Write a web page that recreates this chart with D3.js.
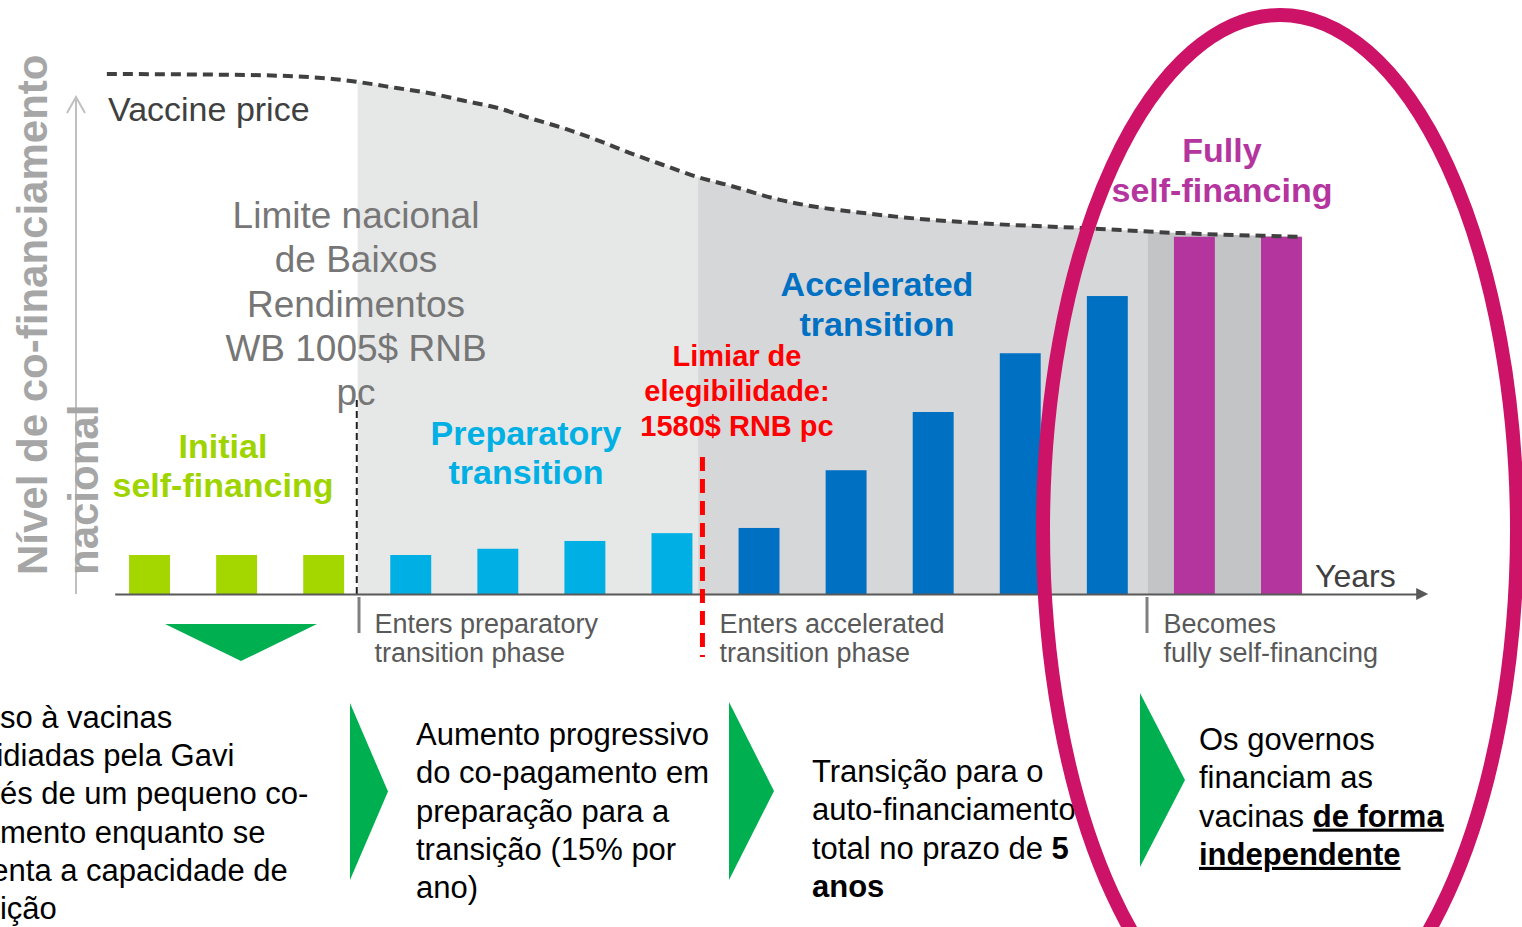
<!DOCTYPE html>
<meta charset="utf-8">

<style>

body {
  margin: 0;
  background: #fff;
}

svg text {
  font-family: "Liberation Sans", Arial, Helvetica, sans-serif;
}

</style>

<svg class="chart" width="1522" height="927"></svg>

<script src="https://d3js.org/d3.v7.min.js"></script>

<script>

// years along the transition path and the national co-financing level (% of price)
var years = d3.range(1, 15).map(String);
var phaseOfYear = ["initial", "initial", "initial",
  "preparatory", "preparatory", "preparatory", "preparatory",
  "accelerated", "accelerated", "accelerated", "accelerated", "accelerated",
  "fully", "fully"];
var coFinancing = [7.5, 7.5, 7.5, 7.5, 8.7, 10.2, 11.7, 12.7, 23.8, 35, 46.3, 57.3, 68.7, 68.7];

// vaccine price curve (same units as co-financing)
var priceYear  = [0.51, 2.15, 3.13, 3.42, 3.84, 4.22, 4.60, 4.99, 5.37, 5.75, 6.14, 6.52,
  6.90, 7.29, 7.63, 8.24, 9.39, 10.54, 11.69, 12.84, 14.24];
var priceLevel = [100, 99.8, 99.0, 98.4, 97.3, 96.3, 94.9, 93.5, 91.5, 89.6, 87.3, 84.8,
  82.5, 80.2, 78.7, 75.8, 72.9, 71.3, 70.4, 69.4, 68.7];

// shaded phases under the price curve
var bandPhases = ["preparatory", "accelerated", "fully"];
var bandStart  = [3.39, 7.30, 12.46];
var bandEnd    = [7.30, 12.46, 14.24];

// markers on the year axis
var phaseTickYears = [3.40, 12.45];
var lowIncomeYear = 3.38;
var eligibilityYear = 7.35;
var axisYears = [0.6, 15.57];

var barColor = {
  initial: "#a4d700",
  preparatory: "#00b0e4",
  accelerated: "#0070c3",
  fully: "#b5359f"
};
var bandColor = {
  preparatory: "#e6e7e7",
  accelerated: "#d6d7d9",
  fully: "#c3c4c6"
};

var svg = d3.select("svg.chart");

var x = d3.scaleBand()
  .domain(years)
  .range([106, 1325])
  .paddingInner(0.53)
  .paddingOuter(0.265);

var xPos = d3.scaleLinear()
  .domain([1, 14])
  .range([x("1") + x.bandwidth() / 2, x("14") + x.bandwidth() / 2]);

var y = d3.scaleLinear()
  .domain([0, 100])
  .range([594, 74]);

var pricePts = priceYear.map(function(d, i) { return [d, priceLevel[i]]; });

// shaded phase bands, clipped under the price curve
var area = d3.area()
  .x(function(d) { return xPos(d[0]); })
  .y0(y(0))
  .y1(function(d) { return y(d[1]); })
  .curve(d3.curveMonotoneX);

var defs = svg.append("defs");
bandPhases.forEach(function(p, i) {
  defs.append("clipPath")
    .attr("id", "clip-" + p)
    .append("rect")
      .attr("x", xPos(bandStart[i]))
      .attr("y", 0)
      .attr("width", xPos(bandEnd[i]) - xPos(bandStart[i]))
      .attr("height", y(0));
  svg.append("path")
    .datum(pricePts)
    .attr("d", area)
    .attr("fill", bandColor[p])
    .attr("clip-path", "url(#clip-" + p + ")");
});

// bars
svg.append("g").selectAll("rect")
  .data(coFinancing)
  .join("rect")
    .attr("x", function(d, i) { return x(years[i]); })
    .attr("y", function(d) { return y(d); })
    .attr("width", x.bandwidth())
    .attr("height", function(d) { return y(0) - y(d); })
    .attr("fill", function(d, i) { return barColor[phaseOfYear[i]]; });

// price curve
svg.append("path")
  .datum(pricePts)
  .attr("d", d3.line()
    .x(function(d) { return xPos(d[0]); })
    .y(function(d) { return y(d[1]); })
    .curve(d3.curveMonotoneX))
  .attr("fill", "none")
  .attr("stroke", "#404040")
  .attr("stroke-width", 4)
  .attr("stroke-dasharray", "10,6");

// low income limit (black dashed)
svg.append("line")
  .attr("x1", xPos(lowIncomeYear)).attr("x2", xPos(lowIncomeYear))
  .attr("y1", 400).attr("y2", y(0))
  .attr("stroke", "#222")
  .attr("stroke-width", 2)
  .attr("stroke-dasharray", "7,4");

// x axis
var xAxisScale = xPos.copy().domain(axisYears).range([xPos(axisYears[0]), xPos(axisYears[1])]);
var xAxis = svg.append("g")
  .attr("transform", "translate(0," + y(0) + ")")
  .call(d3.axisBottom(xAxisScale).tickValues(phaseTickYears).tickSize(39).tickSizeOuter(0).tickFormat(""));
xAxis.select(".domain").attr("stroke", "#595959").attr("stroke-width", 2);
xAxis.selectAll(".tick line").attr("stroke", "#808080").attr("stroke-width", 3).attr("y1", 3);

var xEnd = xPos(axisYears[1]);
svg.append("path")
  .attr("d", "M" + (xEnd - 2) + "," + (y(0) - 6) + "L" + (xEnd + 10) + "," + y(0) + "L" + (xEnd - 2) + "," + (y(0) + 6) + "Z")
  .attr("fill", "#595959");

// y axis arrow
svg.append("line")
  .attr("x1", 76).attr("x2", 76)
  .attr("y1", y(0)).attr("y2", 97)
  .attr("stroke", "#c0c0c0").attr("stroke-width", 2);
svg.append("path")
  .attr("d", "M67,113L76,97L85,113")
  .attr("fill", "none").attr("stroke", "#c0c0c0").attr("stroke-width", 2);

// eligibility threshold (red dashed)
svg.append("line")
  .attr("x1", xPos(eligibilityYear)).attr("x2", xPos(eligibilityYear))
  .attr("y1", 457).attr("y2", 657)
  .attr("stroke", "#ff0000")
  .attr("stroke-width", 5)
  .attr("stroke-dasharray", "14,8");

// multi-line text helper: each line is a string or a list of [text, bold, underline]
function textBlock(x0, y0, dy, lines, opts) {
  var t = svg.append("text")
    .attr("x", x0).attr("y", y0)
    .attr("text-anchor", opts.anchor || "start")
    .attr("font-size", opts.size)
    .attr("fill", opts.color)
    .attr("font-weight", opts.bold ? "bold" : "normal");
  lines.forEach(function(line, i) {
    var segs = typeof line === "string" ? [[line]] : line;
    segs.forEach(function(s, j) {
      var ts = t.append("tspan").text(s[0]);
      if (j === 0) ts.attr("x", x0).attr("y", y0 + i * dy);
      if (s[1]) ts.attr("font-weight", "bold");
      if (s[2]) ts.attr("text-decoration", "underline");
    });
  });
  return t;
}

// y axis title
svg.append("text")
  .attr("transform", "translate(47,575) rotate(-90)")
  .attr("font-size", 42).attr("font-weight", "bold").attr("fill", "#a6a6a6")
  .text("Nível de co-financiamento");
svg.append("text")
  .attr("transform", "translate(98,575) rotate(-90)")
  .attr("font-size", 42).attr("font-weight", "bold").attr("fill", "#a6a6a6")
  .text("nacional");

textBlock(108, 121, 0, ["Vaccine price"], {size: 34, color: "#404040"});
textBlock(1315, 587, 0, ["Years"], {size: 32, color: "#404040"});

textBlock(356, 228, 44.3, ["Limite nacional", "de Baixos", "Rendimentos", "WB 1005$ RNB", "pc"],
  {size: 37, color: "#767676", anchor: "middle"});

textBlock(223, 458, 39, ["Initial", "self-financing"], {size: 34, color: "#9ed400", anchor: "middle", bold: true});
textBlock(526, 445, 39, ["Preparatory", "transition"], {size: 34, color: "#00b0e4", anchor: "middle", bold: true});
textBlock(737, 366, 35, ["Limiar de", "elegibilidade:", "1580$ RNB pc"], {size: 29, color: "#ff0000", anchor: "middle", bold: true});
textBlock(877, 296, 40, ["Accelerated", "transition"], {size: 34, color: "#0070c3", anchor: "middle", bold: true});
textBlock(1222, 162, 40, ["Fully", "self-financing"], {size: 34, color: "#b5359f", anchor: "middle", bold: true});

textBlock(xPos(phaseTickYears[0]) + 16, 633, 29, ["Enters preparatory", "transition phase"], {size: 27, color: "#595959"});
textBlock(xPos(eligibilityYear) + 17, 633, 29, ["Enters accelerated", "transition phase"], {size: 27, color: "#595959"});
textBlock(xPos(phaseTickYears[1]) + 17, 633, 29, ["Becomes", "fully self-financing"], {size: 27, color: "#595959"});

// green arrows
svg.append("path").attr("d", "M165,624L317,624L241,661Z").attr("fill", "#00b050");
[[350, 703, 880, 388], [729, 702, 880, 774], [1140, 693, 867, 1185]].forEach(function(c) {
  svg.append("path")
    .attr("d", "M" + c[0] + "," + c[1] + "L" + c[3] + "," + ((c[1] + c[2]) / 2) + "L" + c[0] + "," + c[2] + "Z")
    .attr("fill", "#00b050");
});

// bottom descriptions
textBlock(-69, 728, 38.2, ["Acesso à vacinas", "subsidiadas pela Gavi", "através de um pequeno co-",
  "pagamento enquanto se", "aumenta a capacidade de", "transição"], {size: 31, color: "#000"});
textBlock(416, 745, 38.3, ["Aumento progressivo", "do co-pagamento em", "preparação para a",
  "transição (15% por", "ano)"], {size: 31, color: "#000"});
textBlock(812, 782, 38.3, ["Transição para o", "auto-financiamento",
  [["total no prazo de "], ["5", true]], [["anos", true]]], {size: 31, color: "#000"});
textBlock(1199, 750, 38.3, ["Os governos", "financiam as",
  [["vacinas "], ["de forma", true, true]], [["independente", true, true]]], {size: 31, color: "#000"});

// highlight ellipse
svg.append("ellipse")
  .attr("cx", 1280).attr("cy", 530)
  .attr("rx", 237).attr("ry", 515)
  .attr("fill", "none")
  .attr("stroke", "#cc1367")
  .attr("stroke-width", 14);

</script>
